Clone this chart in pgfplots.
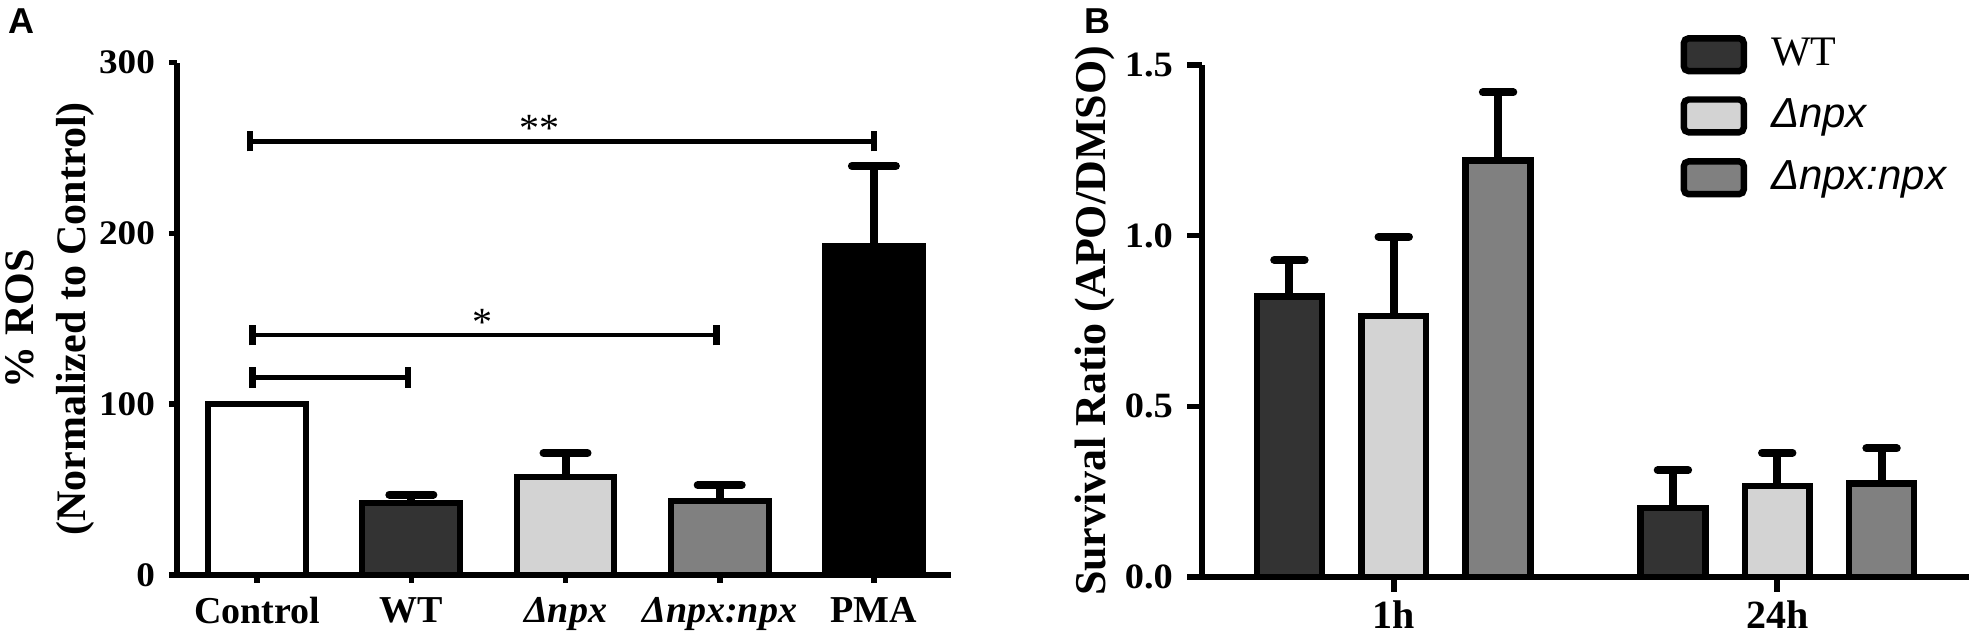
\documentclass[border=0pt]{standalone}
\usepackage{fontspec}
\setmainfont{Liberation Serif}
\setsansfont{Liberation Sans}
\newfontfamily\tickfont{Liberation Serif}[FakeStretch=1.08]
\usepackage{pgfplots}
\pgfplotsset{compat=1.18}
\definecolor{cWT}{HTML}{333333}
\definecolor{cDn}{HTML}{D3D3D3}
\definecolor{cCo}{HTML}{808080}
\pgfplotsset{
  errA/.style={error bars/.cd, y dir=plus, y explicit,
    error bar style={line width=2pt, black},
    error mark=|, error mark options={line width=2pt, mark size=5.5pt, line cap=round, black}},
  errB/.style={error bars/.cd, y dir=plus, y explicit,
    error bar style={line width=2pt, black},
    error mark=|, error mark options={line width=2pt, mark size=3.8pt, line cap=round, black}},
}
\begin{document}
\begin{tikzpicture}
\path[use as bounding box] (0,0) rectangle (493.5pt,158pt);
\node[anchor=north west, inner sep=0pt, font=\sffamily\bfseries\fontsize{9}{9}\selectfont] at (2pt,156pt) {A};
\node[anchor=north west, inner sep=0pt, font=\sffamily\bfseries\fontsize{9}{9}\selectfont] at (271pt,156pt) {B};
% Panel A
\begin{axis}[
  at={(44.25pt,14.25pt)}, anchor=south west,
  scale only axis, width=193.5pt, height=128.1pt,
  xmin=-0.52, xmax=4.5, ymin=0, ymax=300,
  axis x line*=bottom, axis y line*=left,
  axis line style={line width=1.4pt, -},
  ytick={0,100,200,300}, xtick={0,1,2,3,4},
  xticklabels={Control, WT, {\itshape Δnpx}, {\itshape Δnpx:npx}, PMA},
  tick align=outside, major tick length=2pt,
  tick style={line width=1.4pt, black},
  xticklabel style={font=\bfseries\fontsize{9.5}{10}\selectfont},
  yticklabel style={font=\tickfont\bfseries\fontsize{8.6}{10}\selectfont},
  /pgf/number format/assume math mode=true,
  ylabel={\% ROS\\(Normalized to Control)},
  ylabel style={at={(axis description cs:-0.0885,0.5)}, anchor=south, align=center, font=\bfseries\fontsize{10.5}{13}\selectfont},
  clip=false,
]
\addplot[ybar, bar width=0.635, fill=white, draw=black, line width=1.5pt] coordinates {(0,100)};
\addplot[ybar, bar width=0.635, fill=cWT, draw=black, line width=1.5pt, errA] coordinates {(1,42.2) +- (0,4.9)};
\addplot[ybar, bar width=0.635, fill=cDn, draw=black, line width=1.5pt, errA] coordinates {(2,57.3) +- (0,14.1)};
\addplot[ybar, bar width=0.635, fill=cCo, draw=black, line width=1.5pt, errA] coordinates {(3,43.1) +- (0,9.5)};
\addplot[ybar, bar width=0.635, fill=black, draw=black, line width=1.5pt, errA] coordinates {(4,192.6) +- (0,46.9)};
% significance brackets
\draw[line width=1.2pt] (axis cs:-0.045,254) -- (axis cs:4,254);
\draw[line width=1.6pt] (axis cs:-0.045,248) -- (axis cs:-0.045,260);
\draw[line width=1.6pt] (axis cs:4,248) -- (axis cs:4,260);
\node[anchor=base, inner sep=0pt, font=\fontsize{10}{10}\selectfont] at (axis cs:1.83,254) {**};
\draw[line width=1.2pt] (axis cs:-0.03,140.5) -- (axis cs:2.98,140.5);
\draw[line width=1.6pt] (axis cs:-0.03,134.5) -- (axis cs:-0.03,146.5);
\draw[line width=1.6pt] (axis cs:2.98,134.5) -- (axis cs:2.98,146.5);
\node[anchor=base, inner sep=0pt, font=\fontsize{10}{10}\selectfont] at (axis cs:1.46,140.5) {*};
\draw[line width=1.2pt] (axis cs:-0.03,115.6) -- (axis cs:0.98,115.6);
\draw[line width=1.6pt] (axis cs:-0.03,109.6) -- (axis cs:-0.03,121.6);
\draw[line width=1.6pt] (axis cs:0.98,109.6) -- (axis cs:0.98,121.6);
\end{axis}
% Panel B
\begin{axis}[
  at={(300.5pt,13.75pt)}, anchor=south west,
  scale only axis, width=191.75pt, height=128pt,
  xmin=-0.5, xmax=1.5, ymin=0, ymax=1.5,
  axis x line*=bottom, axis y line*=left,
  axis line style={line width=1.4pt, -},
  ytick={0,0.5,1,1.5}, xtick={0,1}, xticklabels={1h,24h},
  tick align=outside, major tick length=3.75pt,
  tick style={line width=1.4pt, black},
  xticklabel style={inner sep=2pt, font=\bfseries\fontsize{10}{10}\selectfont},
  yticklabel style={font=\tickfont\bfseries\fontsize{8.9}{10}\selectfont},
  /pgf/number format/assume math mode=true,
  /pgf/number format/fixed, /pgf/number format/fixed zerofill, /pgf/number format/precision=1,
  ylabel={Survival Ratio (APO/DMSO)},
  ylabel style={at={(axis description cs:-0.0952,0.5)}, anchor=south, font=\bfseries\fontsize{11}{12}\selectfont},
  clip=false,
  legend image code/.code={\draw[#1, rounded corners=1.2pt, line width=1.6pt] (0pt,-4.1pt) rectangle (15pt,4.1pt);},
  legend style={at={(axis description cs:0.623,1.070)}, anchor=north west, draw=none, fill=none,
    inner sep=0pt, row sep=2.75pt, column sep=4pt, font=\fontsize{10.5}{12}\selectfont},
  legend cell align=left,
]
\addplot[ybar, bar width=0.169, fill=cWT, draw=black, line width=1.6pt, errB]
  coordinates {(-0.272,0.822) +- (0,0.107) (0.728,0.202) +- (0,0.111)};
\addplot[ybar, bar width=0.169, fill=cDn, draw=black, line width=1.6pt, errB]
  coordinates {(0,0.765) +- (0,0.232) (1,0.267) +- (0,0.097)};
\addplot[ybar, bar width=0.169, fill=cCo, draw=black, line width=1.6pt, errB]
  coordinates {(0.272,1.220) +- (0,0.200) (1.272,0.274) +- (0,0.103)};
\legend{WT\vphantom{p}, {\sffamily\itshape Δnpx}, {\sffamily\itshape Δnpx:npx}}
\end{axis}
\end{tikzpicture}
\end{document}
